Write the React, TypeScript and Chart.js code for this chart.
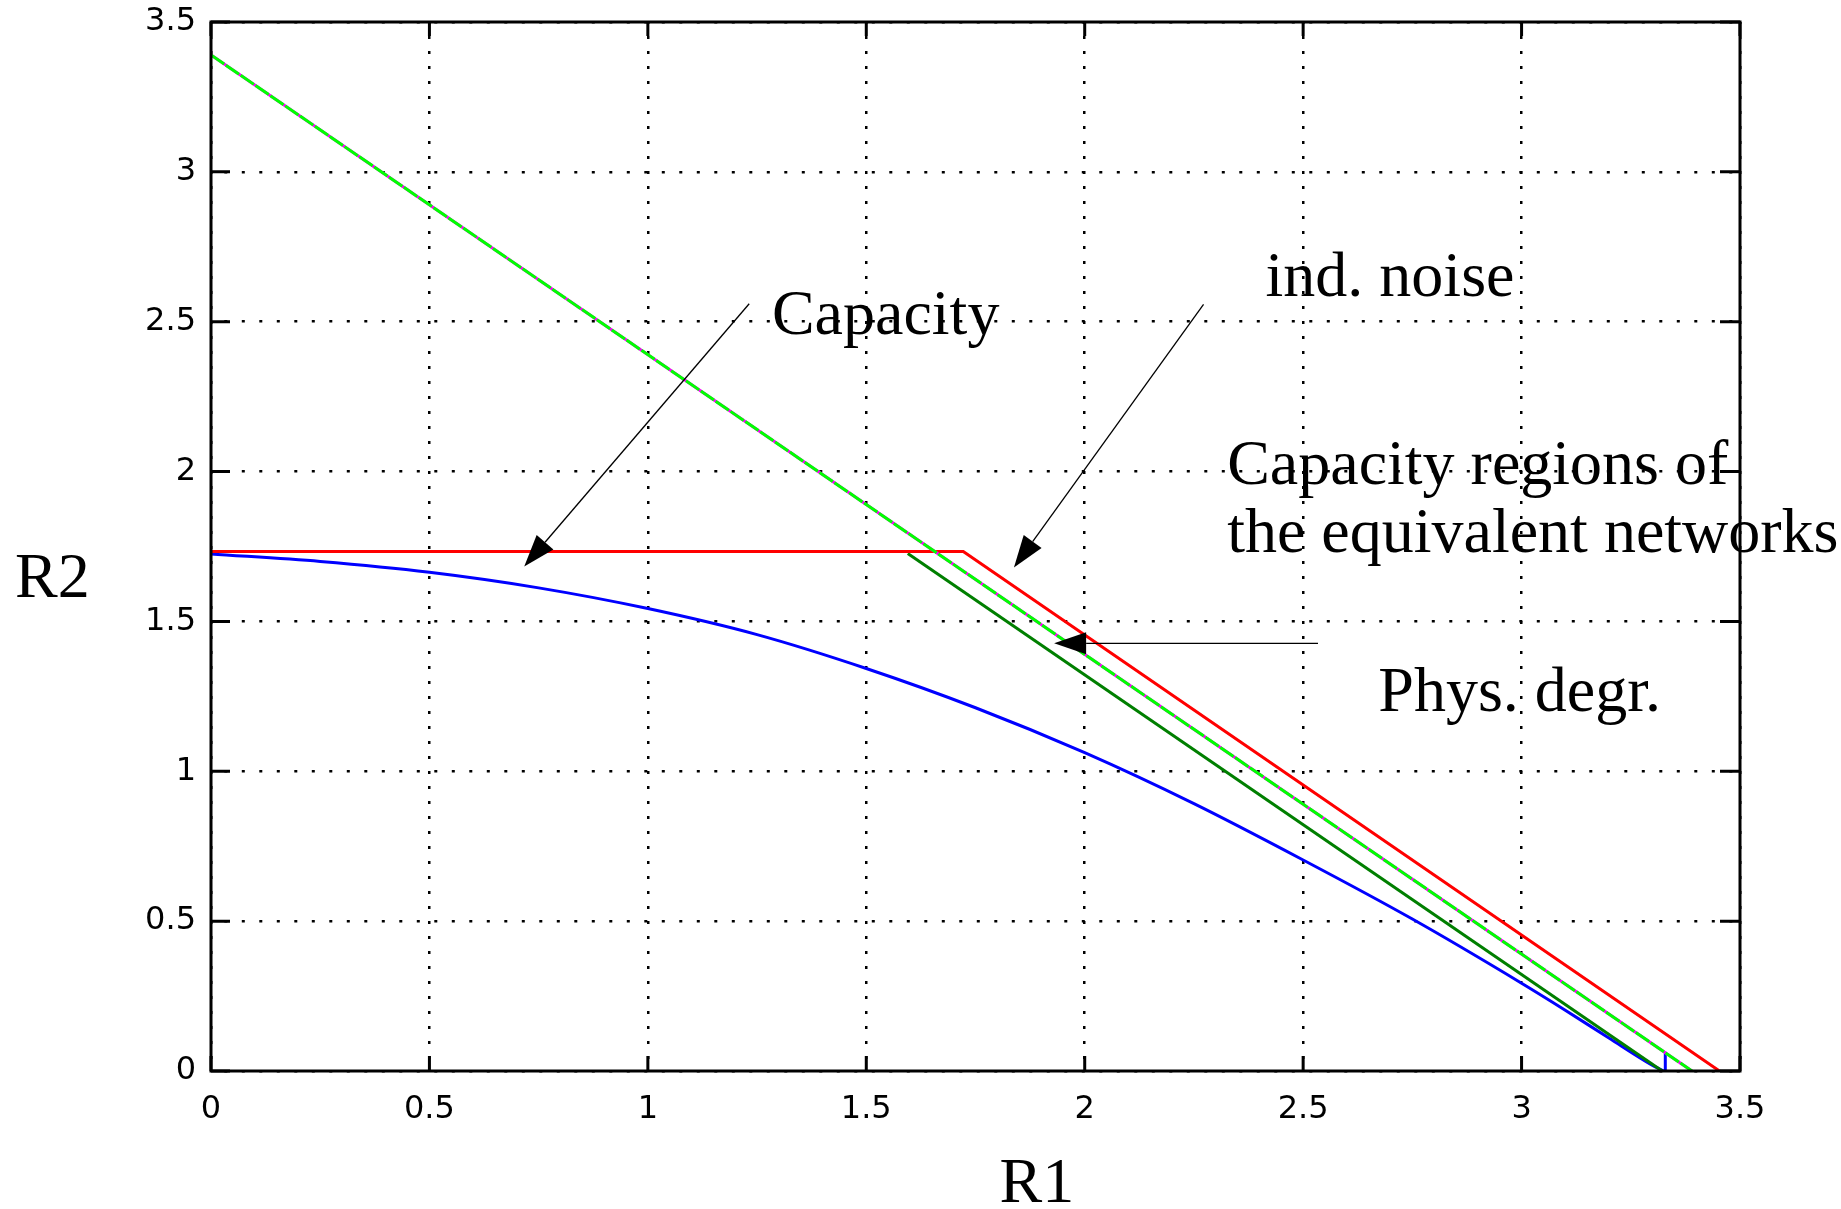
import React, { useEffect, useRef } from "react";
import { Chart, registerables } from "chart.js";

Chart.register(...registerables);

const W = 1841;
const H = 1209;

// axis ticks
const xTicks = [0, 0.5, 1, 1.5, 2, 2.5, 3, 3.5];
const yTicks = [0, 0.5, 1, 1.5, 2, 2.5, 3, 3.5];

// bright green boundary (sum-rate line)
const greenR1 = [0, 3.39];
const greenR2 = [3.39, 0];
// magenta boundary, lies underneath the green one
const magentaR1 = [0, 3.39];
const magentaR2 = [3.39, 0];
// red: independent noise region
const redR1 = [0, 1.722, 3.453];
const redR2 = [1.733, 1.733, 0];
// dark green: physically degraded region
const darkGreenR1 = [1.595, 3.322];
const darkGreenR2 = [1.727, 0];
// blue: capacity region
const blueR1 = [0, 0.25, 0.5, 0.75, 1.0, 1.25, 1.5, 1.75, 2.0, 2.25, 2.5, 2.75, 3.0, 3.1, 3.2, 3.296, 3.325];
const blueR2 = [1.725, 1.7, 1.664, 1.612, 1.543, 1.456, 1.343, 1.212, 1.062, 0.892, 0.704, 0.507, 0.293, 0.203, 0.11, 0.022, 0];
// blue vertical end segment
const blueTailR1 = [3.329, 3.329];
const blueTailR2 = [0, 0.064];

// text annotations (left edge / baseline in data units)
const labelTexts = ["Capacity", "ind. noise", "Capacity regions of", "the equivalent networks", "Phys. degr."];
const labelR1 = [1.284, 2.414, 2.326, 2.326, 2.672];
const labelR2 = [2.46, 2.587, 1.96, 1.731, 1.2];

// arrows (from -> tip, data units)
const arrowFromR1 = [1.232, 2.272, 2.534];
const arrowFromR2 = [2.56, 2.558, 1.427];
const arrowToR1 = [0.717, 1.838, 1.93];
const arrowToR2 = [1.683, 1.68, 1.427];

const xTitle = "R1";
const yTitle = "R2";

const pts = (xs: number[], ys: number[]) => xs.map((x, i) => ({ x, y: ys[i] }));

const overlay = {
  id: "overlay",
  afterDatasetsDraw(chart: any) {
    const { ctx, chartArea: a, scales } = chart;
    const xs = scales.x;
    const ys = scales.y;
    ctx.save();
    // frame
    ctx.strokeStyle = "#000";
    ctx.lineWidth = 3;
    ctx.setLineDash([]);
    ctx.strokeRect(a.left, a.top, a.right - a.left, a.bottom - a.top);
    // inward ticks
    ctx.lineWidth = 3;
    ctx.beginPath();
    xTicks.forEach((v) => {
      const px = xs.getPixelForValue(v);
      ctx.moveTo(px, a.bottom);
      ctx.lineTo(px, a.bottom - 15);
      ctx.moveTo(px, a.top);
      ctx.lineTo(px, a.top + 14);
    });
    yTicks.forEach((v) => {
      const py = ys.getPixelForValue(v);
      ctx.moveTo(a.left, py);
      ctx.lineTo(a.left + 19, py);
      ctx.moveTo(a.right, py);
      ctx.lineTo(a.right - 20, py);
    });
    ctx.stroke();

    // arrows
    ctx.fillStyle = "#000";
    ctx.strokeStyle = "#000";
    ctx.lineWidth = 1.3;
    arrowFromR1.forEach((_, i) => {
      const x1 = xs.getPixelForValue(arrowFromR1[i]);
      const y1 = ys.getPixelForValue(arrowFromR2[i]);
      const x2 = xs.getPixelForValue(arrowToR1[i]);
      const y2 = ys.getPixelForValue(arrowToR2[i]);
      const ang = Math.atan2(y2 - y1, x2 - x1);
      const len = 32;
      const hw = 11;
      const bx = x2 - len * Math.cos(ang);
      const by = y2 - len * Math.sin(ang);
      ctx.beginPath();
      ctx.moveTo(x1, y1);
      ctx.lineTo(bx, by);
      ctx.stroke();
      ctx.beginPath();
      ctx.moveTo(x2, y2);
      ctx.lineTo(bx + hw * Math.sin(ang), by - hw * Math.cos(ang));
      ctx.lineTo(bx - hw * Math.sin(ang), by + hw * Math.cos(ang));
      ctx.closePath();
      ctx.fill();
    });

    // text labels
    ctx.font = '64px "Liberation Serif"';
    ctx.textAlign = "left";
    ctx.textBaseline = "alphabetic";
    labelTexts.forEach((t, i) => {
      ctx.fillText(t, xs.getPixelForValue(labelR1[i]), ys.getPixelForValue(labelR2[i]));
    });

    // axis titles
    ctx.fillText(yTitle, a.left - 196, ys.getPixelForValue(1.58));
    ctx.fillText(xTitle, xs.getPixelForValue(1.805), a.bottom + 131);
    ctx.restore();
  },
};

export default function App() {
  const ref = useRef<HTMLCanvasElement | null>(null);
  useEffect(() => {
    if (!ref.current) return;
    const line = (label: string, data: any[], color: string, extra: any = {}) => ({
      label,
      data,
      borderColor: color,
      backgroundColor: color,
      borderWidth: 3,
      pointRadius: 0,
      showLine: true,
      fill: false,
      tension: 0,
      ...extra,
    });
    const chart = new Chart(ref.current, {
      type: "scatter",
      data: {
        datasets: [
          line("green", pts(greenR1, greenR2), "#00ff00", { borderDash: [16, 2] }),
          line("magenta", pts(magentaR1, magentaR2), "#ff00ff"),
          line("red", pts(redR1, redR2), "#ff0000"),
          line("darkgreen", pts(darkGreenR1, darkGreenR2), "#007f00"),
          line("blue", pts(blueR1, blueR2), "#0000ff", { cubicInterpolationMode: "monotone" }),
          line("blue end", pts(blueTailR1, blueTailR2), "#0000ff"),
        ],
      },
      options: {
        responsive: false,
        animation: false,
        layout: { padding: { left: 0, top: 22, right: W - 1740, bottom: 0 } },
        plugins: { legend: { display: false }, tooltip: { enabled: false } },
        scales: {
          x: {
            type: "linear",
            min: 0,
            max: 3.5,
            afterBuildTicks: (s: any) => {
              s.ticks = xTicks.map((v) => ({ value: v }));
            },
            afterFit: (s: any) => {
              s.height = H - 1071;
              s.paddingLeft = 0;
              s.paddingRight = 0;
            },
            ticks: {
              font: { family: "DejaVu Sans", size: 32 },
              color: "#000",
              padding: 19,
              maxRotation: 0,
              autoSkip: false,
              callback: (v: any) => String(v),
            },
            grid: { color: "#000", lineWidth: 2.5, drawTicks: false },
            border: { display: false, dash: [3, 12], dashOffset: 1 },
          },
          y: {
            type: "linear",
            min: 0,
            max: 3.5,
            afterBuildTicks: (s: any) => {
              s.ticks = yTicks.map((v) => ({ value: v }));
            },
            afterFit: (s: any) => {
              s.width = 211;
              s.paddingTop = 0;
              s.paddingBottom = 0;
            },
            ticks: {
              font: { family: "DejaVu Sans", size: 32 },
              color: "#000",
              padding: 15,
              autoSkip: false,
              callback: (v: any) => String(v),
            },
            grid: { color: "#000", lineWidth: 2.5, drawTicks: false },
            border: { display: false, dash: [3, 14.5], dashOffset: 4.2 },
          },
        },
      },
      plugins: [overlay],
    } as any);
    return () => chart.destroy();
  }, []);
  return (
    <div style={{ position: "absolute", left: 0, top: 0, width: W, height: H, background: "#fff" }}>
      <canvas ref={ref} width={W} height={H} style={{ display: "block" }} />
    </div>
  );
}
